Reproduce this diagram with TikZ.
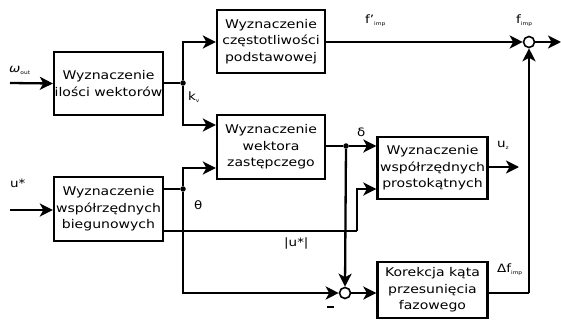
\documentclass[tikz,border=0pt]{standalone}
\usepackage{fontspec}
\setmainfont{DejaVu Sans}[FakeStretch=1.17]
\usetikzlibrary{arrows.meta}
\newcommand{\sbx}[1]{\raisebox{-1.8pt}{\fontsize{5}{6}\selectfont #1}}
\begin{document}
\begin{tikzpicture}[x=1pt,y=-1pt,
  blk/.style={draw,line width=2.3pt,minimum width=#1,inner sep=0pt,align=center,font=\fontsize{12}{16.5}\selectfont},
  conn/.style={line width=2.3pt},
  arr/.style={line width=2.3pt,-{Stealth[length=13pt,width=13pt,inset=3.5pt]}},
  sumj/.style={draw,circle,line width=1.6pt,fill=white,minimum size=11pt,inner sep=0pt},
  dotp/.style={circle,fill,minimum size=5.5pt,inner sep=0pt},
  lbl/.style={font=\fontsize{11.5}{13}\selectfont,inner sep=0pt,anchor=west}]
\useasboundingbox (0,0) rectangle (561,320);
% blocks
\node[blk=109pt,minimum height=63pt] (b1) at (108.5,83.5) {Wyznaczenie\\ilości wektorów};
\node[blk=108pt,minimum height=63pt] (b2) at (271,41.5) {Wyznaczenie\\częstotliwości\\podstawowej};
\node[blk=108pt,minimum height=64pt] (b3) at (271,147) {Wyznaczenie\\wektora\\zastępczego};
\node[blk=109pt,minimum height=64pt] (b4) at (108.5,209) {Wyznaczenie\\współrzędnych\\biegunowych};
\node[blk=110pt,minimum height=62pt] (b5) at (432.5,168) {Wyznaczenie\\współrzędnych\\prostokątnych};
\node[blk=110pt,minimum height=56pt] (b6) at (432.5,290) {Korekcja kąta\\przesunięcia\\fazowego};
% junctions and points
\node[sumj] (s1) at (529,42) {};
\node[sumj] (s2) at (345,293) {};
\node[dotp] (d1) at (183,83) {};
\node[dotp] (d2) at (183,189) {};
\node[dotp] (d3) at (346,146) {};
\coordinate (in1) at (10,83);
\coordinate (in2) at (10,210);
\coordinate (out1) at (561,42);
\coordinate (out2) at (519,167);
\coordinate (c1) at (357,231);
\coordinate (c2) at (529,293);
% connectors
\draw[arr] (in1) -- (b1.west);
\draw[arr] (in2) -- (b4.west |- in2);
\draw[conn] (b1.east |- d1) -- (d1);
\draw[arr] (d1) |- (b2.west |- 0,42);
\draw[arr] (d1) |- (b3.west |- 0,125);
\draw[conn] (b4.east |- d2) -- (d2);
\draw[arr] (d2) |- (b3.west |- 0,168);
\draw[arr] (d2) |- (s2.west);
\draw[conn] (b4.east |- c1) -- (c1);
\draw[arr] (c1) |- (b5.west |- 0,189);
\draw[conn] (b3.east |- d3) -- (d3);
\draw[arr] (d3) -- (b5.west |- d3);
\draw[arr] (d3) -- (s2.north);
\draw[arr] (s2.east) -- (b6.west |- s2);
\draw[arr] (b5.east |- out2) -- (out2);
\draw[arr] (b2.east |- s1) -- (s1.west);
\draw[arr] (s1.east) -- (out1);
\draw[conn] (b6.east |- c2) -- (c2);
\draw[arr] (c2) -- (s1.south);
% labels
\node[lbl] (lw) at (9,70) {\textit{ω}\sbx{out}};
\node[lbl] (lu) at (10,183) {u*};
\node[lbl] (lk) at (188,97) {k\sbx{v}};
\node[lbl] (lf1) at (365,21) {f'\sbx{imp}};
\node[lbl] (lf) at (516,21) {f\sbx{imp}};
\node[lbl] (ld) at (357,132) {δ};
\node[lbl] (luz) at (497,145) {u\sbx{z}};
\node[lbl] (lt) at (194,205) {θ};
\node[lbl] (lm) at (284,243) {|u*|};
\node[lbl] (ldf) at (497,270) {Δf\sbx{imp}};
\node[fill,inner sep=0pt,minimum width=7pt,minimum height=2pt] (lmin) at (330,307) {};
\end{tikzpicture}
\end{document}
